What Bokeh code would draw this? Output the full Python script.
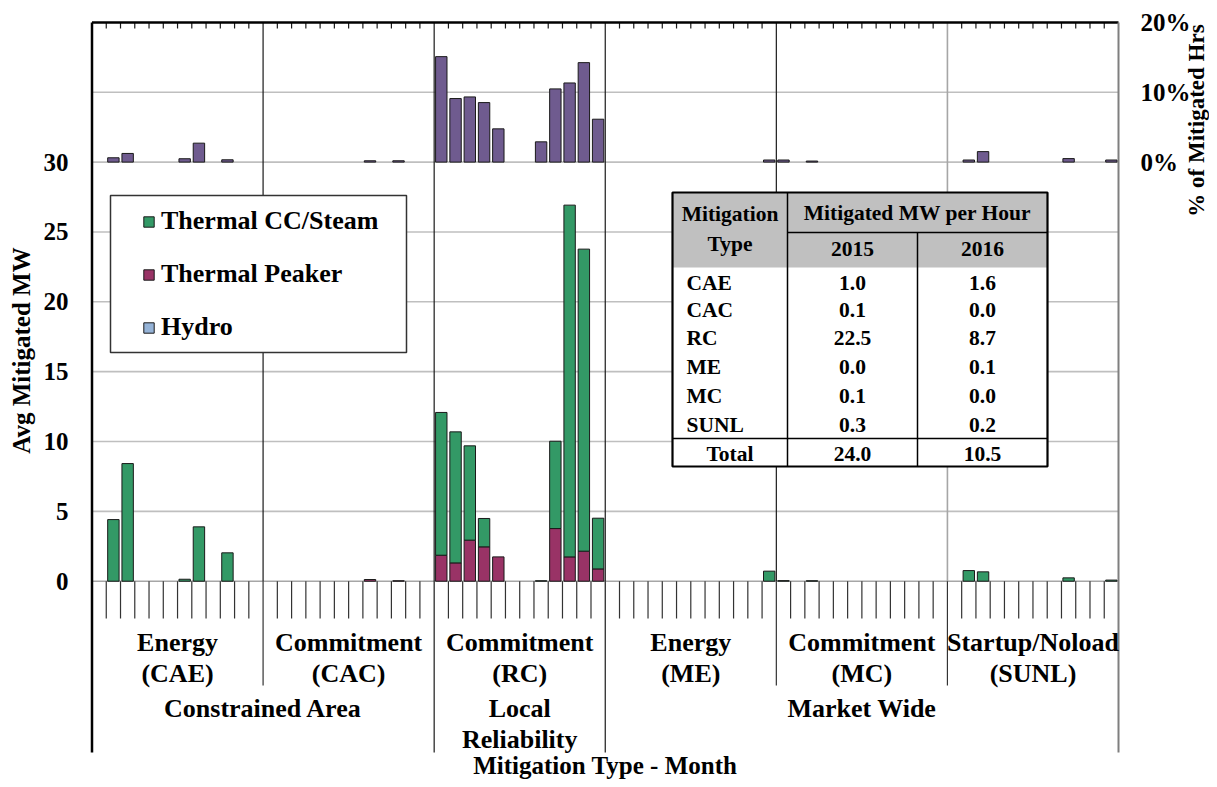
import math
from bokeh.plotting import figure
from bokeh.models import Range1d, Legend, LegendItem, ColumnDataSource
from bokeh.core.properties import value
from bokeh.embed import file_html
from bokeh.resources import INLINE

# ---------------- data ----------------
group_codes = ["CAE", "CAC", "RC", "ME", "MC", "SUNL"]
group_names = ["Energy", "Commitment", "Commitment", "Energy", "Commitment", "Startup/Noload"]
parent_names = ["Constrained Area", "Local\nReliability", "Market Wide"]
parent_spans = [(0, 2), (2, 3), (3, 6)]  # group index spans

# Avg mitigated MW by month (12 months per mitigation type)
thermal_cc = [
    0, 4.41, 8.42, 0, 0, 0, 0.14, 3.89, 0, 2.03, 0, 0,            # CAE
    0, 0, 0, 0, 0, 0, 0, 0, 0, 0, 0, 0,                           # CAC
    10.22, 9.38, 6.75, 2.03, 0, 0, 0, 0.03, 6.25, 25.18, 21.62, 3.63,  # RC
    0, 0, 0, 0, 0, 0, 0, 0, 0, 0, 0, 0.72,                        # ME
    0.04, 0, 0.03, 0, 0, 0, 0, 0, 0, 0, 0, 0,                     # MC
    0, 0.76, 0.67, 0, 0, 0, 0, 0, 0.24, 0, 0, 0.08,               # SUNL
]
thermal_peaker = [
    0, 0, 0, 0, 0, 0, 0, 0, 0, 0, 0, 0,
    0, 0, 0, 0, 0, 0, 0, 0.12, 0, 0.03, 0, 0,
    1.86, 1.31, 2.94, 2.46, 1.74, 0, 0, 0, 3.77, 1.74, 2.15, 0.88,
    0, 0, 0, 0, 0, 0, 0, 0, 0, 0, 0, 0,
    0, 0, 0, 0, 0, 0, 0, 0, 0, 0, 0, 0,
    0, 0, 0, 0, 0, 0, 0, 0, 0, 0, 0, 0,
]
hydro = [0] * 72
# % of mitigated hours
pct_hours = [
    0, 0.62, 1.24, 0, 0, 0, 0.48, 2.71, 0, 0.33, 0, 0,
    0, 0, 0, 0, 0, 0, 0, 0.19, 0, 0.19, 0, 0,
    15.1, 9.1, 9.33, 8.52, 4.76, 0, 0, 2.9, 10.48, 11.33, 14.24, 6.14,
    0, 0, 0, 0, 0, 0, 0, 0, 0, 0, 0, 0.3,
    0.3, 0, 0.15, 0, 0, 0, 0, 0, 0, 0, 0, 0,
    0, 0.3, 1.5, 0, 0, 0, 0, 0, 0.5, 0, 0, 0.3,
]
left_ticks = [0, 5, 10, 15, 20, 25, 30]
right_ticks = [0, 10, 20]

table_types = ["CAE", "CAC", "RC", "ME", "MC", "SUNL"]
table_2015 = ["1.0", "0.1", "22.5", "0.0", "0.1", "0.3"]
table_2016 = ["1.6", "0.0", "8.7", "0.1", "0.0", "0.2"]
table_total = ["24.0", "10.5"]
table_years = ["2015", "2016"]

# ---------------- geometry helpers (canvas px -> data) ----------------
X0_PX, SLOT_PX = 91.5, 14.257
Y0_PX, UNIT_PX = 580.7, 13.97
def px2x(px): return (px - X0_PX) / SLOT_PX
def py2y(py): return (Y0_PX - py) / UNIT_PX

W, H = 1209, 779
FONT = value("Liberation Serif")
N = 72
y_start, y_end = py2y(H), py2y(0)

p = figure(width=W, height=H, output_backend="svg", toolbar_location=None,
           x_range=Range1d(px2x(0), px2x(W)), y_range=Range1d(y_start, y_end),
           x_axis_location=None, y_axis_location=None, min_border=0)
p.outline_line_color = None
p.grid.visible = False
p.extra_y_ranges = {"pct": Range1d((y_start - 30) * 2, (y_end - 30) * 2)}

def txt(x, y, s, size="26px", align="center", angle=0.0, baseline="middle", yr="default"):
    p.text(x=[x], y=[y], text=[s], text_font=FONT, text_font_style="bold",
           text_font_size=size, text_align=align, text_baseline=baseline,
           text_color="black", angle=angle, y_range_name=yr)

# gridlines
gy = [5, 10, 15, 20, 25, 30, 35]
p.segment(x0=[0] * len(gy), x1=[N] * len(gy), y0=gy, y1=gy, line_color="#bfbfbf", line_width=1.6)
p.segment(x0=[0], x1=[N], y0=[0], y1=[0], line_color="#a6a6a6", line_width=1.6)
# group separators inside plot
p.segment(x0=[12, 24, 36, 48], x1=[12, 24, 36, 48], y0=[0] * 4, y1=[40] * 4,
          line_color="#1a1a1a", line_width=1.2)
p.segment(x0=[60], x1=[60], y0=[0], y1=[40], line_color="#a6a6a6", line_width=1.6)

# bars
BW = 0.8
def bars(bottoms, tops, color, y_range_name="default"):
    xs, b, t = [], [], []
    for i in range(N):
        if tops[i] - bottoms[i] > 0:
            xs.append(i + 0.5); b.append(bottoms[i]); t.append(tops[i])
    src = ColumnDataSource(dict(x=xs, bottom=b, top=t))
    return p.vbar(x="x", bottom="bottom", top="top", width=BW, source=src,
                  fill_color=color, line_color="#1a1a1a", line_width=1,
                  y_range_name=y_range_name)

zero = [0] * N
pk_top = [thermal_peaker[i] for i in range(N)]
cc_top = [thermal_peaker[i] + thermal_cc[i] for i in range(N)]
hy_top = [cc_top[i] + hydro[i] for i in range(N)]
COL_CC, COL_PK, COL_HY, COL_PCT = "#339966", "#993366", "#95b3d7", "#6f5b8f"
r_pk = bars(zero, pk_top, COL_PK)
r_cc = bars(pk_top, cc_top, COL_CC)
r_hy = bars(cc_top, hy_top, COL_HY)
r_pct = bars(zero, pct_hours, COL_PCT, "pct")
# hidden one-row copy of the (all-zero) hydro series, only used for its legend swatch
r_hy_key = p.vbar(x=[0.5], bottom=[cc_top[0]], top=[hy_top[0]], width=BW, fill_color=COL_HY,
                  line_color="#1a1a1a", line_width=1, visible=False)

# category axis ticks below, ticks on top
month_k = [k for k in range(1, N) if k % 12 != 0]
p.segment(x0=month_k, x1=month_k, y0=[0] * len(month_k), y1=[py2y(618)] * len(month_k),
          line_color="#333333", line_width=1.2)
p.segment(x0=month_k, x1=month_k, y0=[40] * len(month_k), y1=[py2y(28)] * len(month_k),
          line_color="#1a1a1a", line_width=1.2)
sub_k = [12, 48, 60]
p.segment(x0=sub_k, x1=sub_k, y0=[0] * 3, y1=[py2y(685)] * 3, line_color="#333333", line_width=1.2)
par_k = [24, 36]
p.segment(x0=par_k, x1=par_k, y0=[0] * 2, y1=[py2y(752)] * 2, line_color="#1a1a1a", line_width=1.2)

# borders
p.segment(x0=[0], x1=[0], y0=[py2y(752)], y1=[40], line_color="black", line_width=2.5)
p.segment(x0=[0], x1=[N], y0=[40], y1=[40], line_color="black", line_width=2.5)
p.segment(x0=[N], x1=[N], y0=[py2y(752)], y1=[40], line_color="#7f7f7f", line_width=2)

# value axes (tick labels) and titles
for t in left_ticks:
    txt(px2x(68), t, str(t), "25px", "right")
for t in right_ticks:
    txt(px2x(1140), t, "%d%%" % t, "25px", "left", yr="pct")
txt(px2x(21), py2y(350), "Avg Mitigated MW", "25px", angle=math.pi / 2)
txt(px2x(1196), py2y(120), "% of Mitigated Hrs", "23px", angle=math.pi / 2)

# category labels
for g in range(6):
    cx = g * 12 + 6
    txt(cx, py2y(642), group_names[g])
    txt(cx, py2y(673), "(" + group_codes[g] + ")")
for name, (a, b) in zip(parent_names, parent_spans):
    cx = (a + b) * 6
    for j, line in enumerate(name.split("\n")):
        txt(cx, py2y(708 + 31 * j), line)
txt(36, py2y(765), "Mitigation Type - Month", "25px")

# legend box
p.quad(left=[px2x(110)], right=[px2x(406)], bottom=[py2y(352)], top=[py2y(195)],
       fill_color="white", line_color="#333333", line_width=1.5)
legend = Legend(items=[LegendItem(label="Thermal CC/Steam", renderers=[r_cc]),
                       LegendItem(label="Thermal Peaker", renderers=[r_pk]),
                       LegendItem(label="Hydro", renderers=[r_hy_key])],
                location=(142, 437), padding=13, spacing=23, label_height=30,
                glyph_width=13, glyph_height=13, label_standoff=6,
                border_line_color=None, background_fill_alpha=0,
                label_text_font="Liberation Serif", label_text_font_style="bold",
                label_text_font_size="26px", label_text_color="black")
p.add_layout(legend)

# table
TL, TC1, TC2, TR = 672, 787, 917, 1047
TT, TH1, TH2, TTOT, TB = 192, 232, 267, 438, 466
p.quad(left=[px2x(TL)], right=[px2x(TR)], bottom=[py2y(TB)], top=[py2y(TT)],
       fill_color="white", line_color=None)
p.quad(left=[px2x(TL)], right=[px2x(TR)], bottom=[py2y(TH2)], top=[py2y(TT)],
       fill_color="#c0c0c0", line_color=None)
p.segment(x0=[px2x(TC1), px2x(TC2), px2x(TC1), px2x(TL)],
          x1=[px2x(TC1), px2x(TC2), px2x(TR), px2x(TR)],
          y0=[py2y(TT), py2y(TH1), py2y(TH1), py2y(TTOT)],
          y1=[py2y(TB), py2y(TB), py2y(TH1), py2y(TTOT)],
          line_color="black", line_width=1.5)
p.quad(left=[px2x(TL)], right=[px2x(TR)], bottom=[py2y(TB)], top=[py2y(TT)],
       fill_color=None, line_color="black", line_width=2.2)
c1 = px2x((TL + TC1) / 2); c2 = px2x((TC1 + TC2) / 2); c3 = px2x((TC2 + TR) / 2)
TS = "21.5px"
txt(c1, py2y(213), "Mitigation", TS)
txt(c1, py2y(243), "Type", TS)
txt(px2x((TC1 + TR) / 2), py2y(212), "Mitigated MW per Hour", TS)
txt(c2, py2y(248), table_years[0], TS)
txt(c3, py2y(248), table_years[1], TS)
row_y = [282, 309, 337, 366, 395, 424]
for i, t in enumerate(table_types):
    txt(px2x(686), py2y(row_y[i]), t, TS, "left")
    txt(c2, py2y(row_y[i]), table_2015[i], TS)
    txt(c3, py2y(row_y[i]), table_2016[i], TS)
txt(c1, py2y(453), "Total", TS)
txt(c2, py2y(453), table_total[0], TS)
txt(c3, py2y(453), table_total[1], TS)

open("out.html", "w").write(file_html(p, INLINE))
